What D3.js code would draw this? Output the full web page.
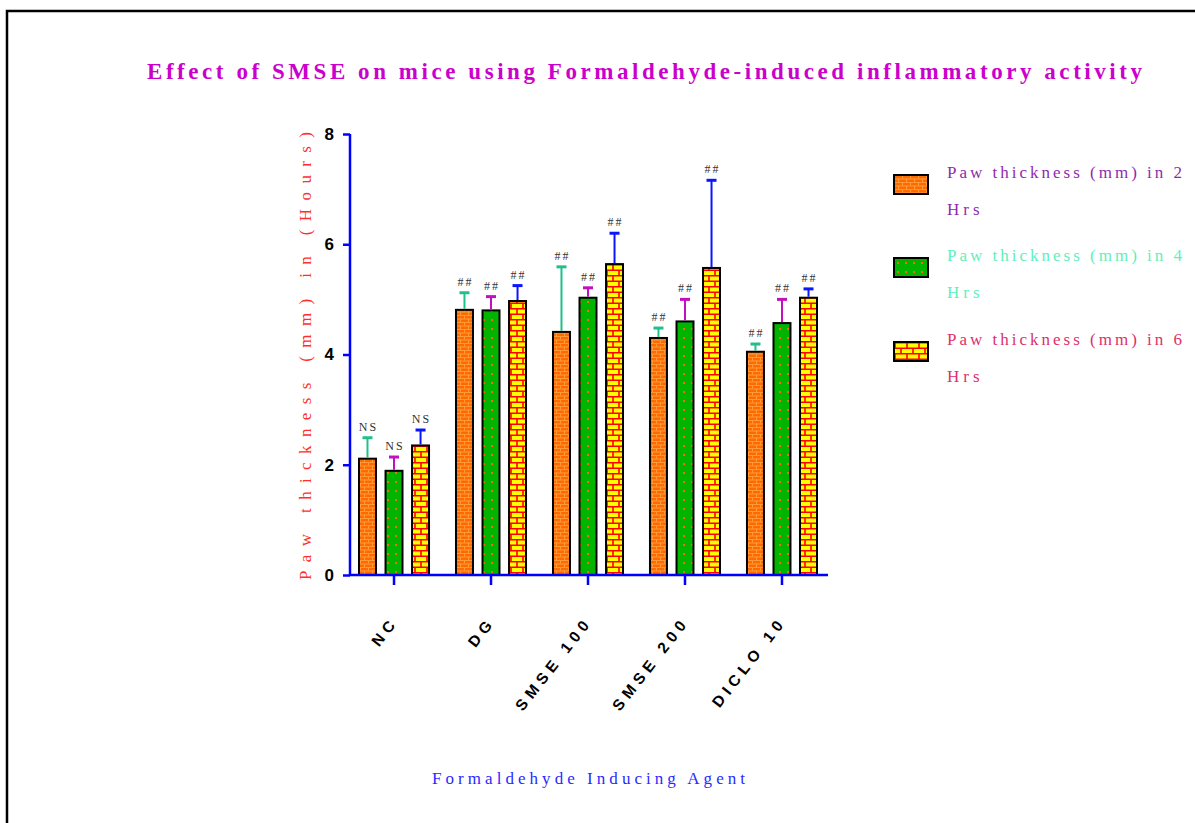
<!DOCTYPE html>
<html>
<head>
<meta charset="utf-8">
<script src="https://cdn.jsdelivr.net/npm/d3@7"></script>
<style>
  html, body { margin: 0; padding: 0; background: #fff; }
  svg { display: block; }
</style>
</head>
<body>
<svg id="chart" width="1195" height="823"></svg>
<script>
// Paw thickness (mm) per treatment group at 2, 4 and 6 hours
const groups = ["NC", "DG", "SMSE 100", "SMSE 200", "DICLO 10"];
const seriesNames = [
  "Paw thickness (mm) in 2 Hrs",
  "Paw thickness (mm) in 4 Hrs",
  "Paw thickness (mm) in 6 Hrs"
];
const mean2h = [2.11, 4.81, 4.41, 4.30, 4.05];
const mean4h = [1.89, 4.80, 5.03, 4.60, 4.57];
const mean6h = [2.35, 4.97, 5.64, 5.57, 5.03];
const sem2h = [0.38, 0.31, 1.18, 0.18, 0.14];
const sem4h = [0.25, 0.25, 0.18, 0.40, 0.43];
const sem6h = [0.28, 0.28, 0.56, 1.59, 0.16];
const signif = ["NS", "##", "##", "##", "##"];
const yTicks = [0, 2, 4, 6, 8];

const means = [mean2h, mean4h, mean6h];
const sems = [sem2h, sem4h, sem6h];
const errColors = ["#1fc08a", "#c010c0", "#0a14ff"];
const legendColors = ["#8e2aae", "#5ef0bc", "#dc2f6c"];
const patternIds = ["brickOrange", "dotsGreen", "brickYellow"];

const rows = [];
groups.forEach((g, gi) => {
  seriesNames.forEach((s, si) => {
    rows.push({ group: g, gi, si, value: means[si][gi], err: sems[si][gi], label: signif[gi] });
  });
});

const svg = d3.select("#chart");
const defs = svg.append("defs");

// orange brick fill
{
  const p = defs.append("pattern").attr("id", "brickOrange")
    .attr("patternUnits", "userSpaceOnUse").attr("width", 8).attr("height", 7);
  p.append("rect").attr("width", 8).attr("height", 7).attr("fill", "#ff6a00");
  p.append("path").attr("d", "M0,0.5H8M0,4H8M0.5,0V3.5M4.5,3.5V7")
    .attr("stroke", "#ff9a3a").attr("stroke-width", 1).attr("fill", "none");
}
// green with orange dots
{
  const p = defs.append("pattern").attr("id", "dotsGreen")
    .attr("patternUnits", "userSpaceOnUse").attr("width", 8).attr("height", 9);
  p.append("rect").attr("width", 8).attr("height", 9).attr("fill", "#00b400");
  p.append("rect").attr("x", 3).attr("y", 4).attr("width", 2).attr("height", 2).attr("fill", "#ff6a00");
}
// yellow brick with red mortar
{
  const p = defs.append("pattern").attr("id", "brickYellow")
    .attr("patternUnits", "userSpaceOnUse").attr("width", 12).attr("height", 11);
  p.append("rect").attr("width", 12).attr("height", 11).attr("fill", "#ffff00");
  p.append("path").attr("d", "M0,0.75H12M0,6.25H12M1,0V5.5M7,5.5V11")
    .attr("stroke", "#ff0000").attr("stroke-width", 1.6).attr("fill", "none");
}

// page frame
svg.append("path").attr("d", "M7,823V11H1195")
  .attr("fill", "none").attr("stroke", "#000").attr("stroke-width", 2.5);

// scales
const y = d3.scaleLinear().domain([0, 8]).range([575, 134]);
const x0 = d3.scaleBand().domain(groups).range([359, 817]).paddingInner(0.278).paddingOuter(0);
const x1 = d3.scaleBand().domain(d3.range(3)).range([0, x0.bandwidth()]).paddingInner(0.36);

// title
svg.append("text")
  .attr("x", 147).attr("y", 79)
  .attr("textLength", 995).attr("lengthAdjust", "spacing")
  .attr("font-family", "Liberation Serif, serif").attr("font-weight", "bold")
  .attr("font-size", 23).attr("fill", "#cc00cc")
  .text("Effect of SMSE on mice using Formaldehyde-induced inflammatory activity");

// bars
const barG = svg.append("g");
barG.selectAll("rect.bar").data(rows).join("rect")
  .attr("class", "bar")
  .attr("x", d => x0(d.group) + x1(d.si))
  .attr("y", d => y(d.value))
  .attr("width", x1.bandwidth())
  .attr("height", d => y(0) - y(d.value))
  .attr("fill", d => `url(#${patternIds[d.si]})`)
  .attr("stroke", "#000").attr("stroke-width", 2);

// error bars (upper only)
const errG = svg.append("g");
errG.selectAll("line.err").data(rows).join("line")
  .attr("x1", d => x0(d.group) + x1(d.si) + x1.bandwidth() / 2)
  .attr("x2", d => x0(d.group) + x1(d.si) + x1.bandwidth() / 2)
  .attr("y1", d => y(d.value) - 1)
  .attr("y2", d => y(d.value + d.err))
  .attr("stroke", d => errColors[d.si]).attr("stroke-width", 2);
errG.selectAll("line.cap").data(rows).join("line")
  .attr("x1", d => x0(d.group) + x1(d.si) + x1.bandwidth() / 2 - 5)
  .attr("x2", d => x0(d.group) + x1(d.si) + x1.bandwidth() / 2 + 5)
  .attr("y1", d => y(d.value + d.err))
  .attr("y2", d => y(d.value + d.err))
  .attr("stroke", d => errColors[d.si]).attr("stroke-width", 3);

// significance marks
svg.append("g").selectAll("text").data(rows).join("text")
  .attr("x", d => x0(d.group) + x1(d.si) + x1.bandwidth() / 2 + 1)
  .attr("y", d => y(d.value + d.err) - 7)
  .attr("text-anchor", "middle")
  .attr("font-family", "Liberation Serif, serif").attr("font-size", 12)
  .attr("letter-spacing", 2)
  .attr("fill", "#333")
  .text(d => d.label);

// y axis
const yAxis = d3.axisLeft(y).tickValues(yTicks).tickSize(7).tickPadding(9).tickFormat(d3.format("d"));
const yG = svg.append("g").attr("transform", "translate(350,0)").call(yAxis);
yG.select(".domain").attr("stroke", "#0000ff").attr("stroke-width", 2.5).attr("d", "M0,134V575");
yG.selectAll(".tick line").attr("stroke", "#0000ff").attr("stroke-width", 2.5);
yG.selectAll(".tick text")
  .attr("font-family", "Liberation Sans, Arial, sans-serif").attr("font-weight", "bold")
  .attr("font-size", 17).attr("fill", "#000");

// x axis
const xAxis = d3.axisBottom(x0).tickSize(10).tickFormat("");
const xG = svg.append("g").attr("transform", "translate(0,575)").call(xAxis);
xG.select(".domain").attr("stroke", "#0000ff").attr("stroke-width", 2.5).attr("d", "M350,0H828");
xG.selectAll(".tick line").attr("stroke", "#0000ff").attr("stroke-width", 2.5);

// rotated category labels
svg.append("g").selectAll("text").data(groups).join("text")
  .attr("transform", d => `translate(${x0(d) + x0.bandwidth() / 2 + 5},622) rotate(-52)`)
  .attr("text-anchor", "end")
  .attr("font-family", "Liberation Sans, Arial, sans-serif").attr("font-weight", "bold")
  .attr("font-size", 15.5).attr("letter-spacing", 5)
  .attr("fill", "#000")
  .text(d => d);

// axis titles
svg.append("text")
  .attr("transform", "translate(311,580) rotate(-90)")
  .attr("textLength", 448).attr("lengthAdjust", "spacing")
  .attr("font-family", "Liberation Serif, serif").attr("font-size", 17)
  .attr("fill", "#ff2e2e")
  .text("Paw thickness (mm) in (Hours)");

svg.append("text")
  .attr("x", 432).attr("y", 784)
  .attr("textLength", 313).attr("lengthAdjust", "spacing")
  .attr("font-family", "Liberation Serif, serif").attr("font-size", 17)
  .attr("fill", "#2a2aff")
  .text("Formaldehyde Inducing Agent");

// legend
const legend = svg.append("g");
const legendTop = [175, 258, 342];
seriesNames.forEach((name, i) => {
  const g = legend.append("g").attr("transform", `translate(894,${legendTop[i]})`);
  g.append("rect").attr("width", 34).attr("height", 19)
    .attr("fill", `url(#${patternIds[i]})`).attr("stroke", "#000").attr("stroke-width", 2);
  const parts = name.split(" Hrs");
  g.append("text").attr("x", 53).attr("y", 3)
    .attr("textLength", 235).attr("lengthAdjust", "spacing")
    .attr("font-family", "Liberation Serif, serif").attr("font-size", 17)
    .attr("fill", legendColors[i]).text(parts[0]);
  g.append("text").attr("x", 53).attr("y", 40)
    .attr("letter-spacing", 4)
    .attr("font-family", "Liberation Serif, serif").attr("font-size", 17)
    .attr("fill", legendColors[i]).text("Hrs");
});
</script>
</body>
</html>
